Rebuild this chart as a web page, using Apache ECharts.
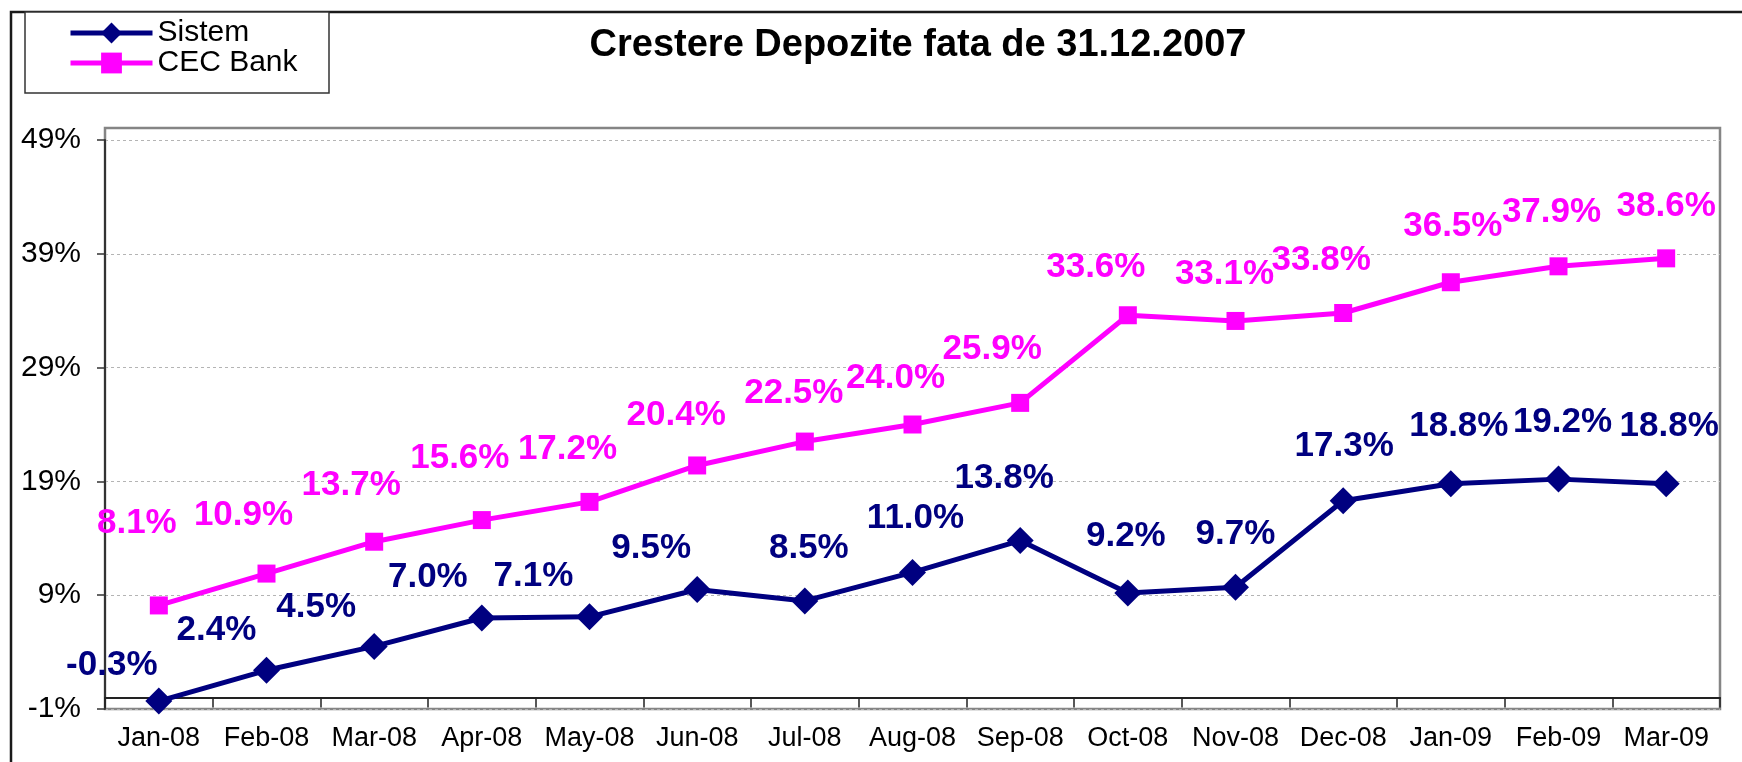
<!DOCTYPE html>
<html>
<head>
<meta charset="utf-8">
<script src="https://cdn.jsdelivr.net/npm/echarts@6/dist/echarts.min.js"></script>
<style>
  html, body { margin: 0; padding: 0; background: #fff; }
  #chart { width: 1742px; height: 762px; }
</style>
</head>
<body>
<div id="chart"></div>
<script>
// data
var categories = ['Jan-08', 'Feb-08', 'Mar-08', 'Apr-08', 'May-08', 'Jun-08', 'Jul-08', 'Aug-08',
    'Sep-08', 'Oct-08', 'Nov-08', 'Dec-08', 'Jan-09', 'Feb-09', 'Mar-09'];
var sistem = [-0.3, 2.4, 4.5, 7.0, 7.1, 9.5, 8.5, 11.0, 13.8, 9.2, 9.7, 17.3, 18.8, 19.2, 18.8];
var cecBank = [8.1, 10.9, 13.7, 15.6, 17.2, 20.4, 22.5, 24.0, 25.9, 33.6, 33.1, 33.8, 36.5, 37.9, 38.6];
var yMin = -1, yMax = 49, yStep = 10;

// where each value label sits relative to its point (labels were dragged by hand)
var sistemLabelOffsets = [[-47, -36], [-50, -40], [-58, -39], [-54, -41], [-56, -40], [-46, -41],
    [4, -53], [3, -54], [-16, -62], [-2, -57], [0, -53], [1, -54], [8, -57], [4, -57], [3, -57]];
var cecLabelOffsets = [[-22, -82], [-23, -58], [-23, -56], [-22, -62], [-22, -53], [-21, -50],
    [-11, -48], [-17, -46], [-28, -54], [-32, -48], [-11, -47], [-22, -53], [2, -56], [-7, -54], [0, -52]];

var FONT = '"Liberation Sans", Arial, sans-serif';

buildPoints = function (values, offsets) {
    var out = [];
    for (var i = 0; i < values.length; i++) {
        out.push({ value: values[i], label: { offset: offsets[i] } });
    }
    return out;
}

var chart = echarts.init(document.getElementById('chart'));
var option = {
    animation: false,
    backgroundColor: '#fff',
    graphic: [
        // outer chart frame
        { type: 'rect', z: -10, silent: true, shape: { x: 11, y: 12, width: 1800, height: 800 },
          style: { fill: '#fff', stroke: '#1a1a1a', lineWidth: 2.5 } },
        // plot box
        { type: 'rect', z: -5, silent: true, shape: { x: 105, y: 128, width: 1615, height: 581 },
          style: { fill: 'none', stroke: '#858585', lineWidth: 2.5 } },
        // legend box
        { type: 'rect', z: -5, silent: true, shape: { x: 25, y: 12, width: 304, height: 81 },
          style: { fill: '#fff', stroke: '#333', lineWidth: 1.5 } },
        { type: 'text', silent: true, x: 918, y: 46,
          style: { text: 'Crestere Depozite fata de 31.12.2007', fill: '#000', align: 'center',
                   verticalAlign: 'middle', font: 'bold 38px ' + FONT } }
    ],
    legend: {
        orient: 'vertical',
        left: 68,
        top: 18,
        padding: 0,
        itemGap: 0,
        itemWidth: 82,
        itemHeight: 26,
        lineStyle: { width: 5 },
        textStyle: { fontFamily: FONT, fontSize: 30, lineHeight: 30, color: '#000' },
        data: ['Sistem', 'CEC Bank']
    },
    grid: { left: 105, right: 22, top: 140, bottom: 53, containLabel: false },
    xAxis: {
        type: 'category',
        data: categories,
        axisLine: { onZero: true, lineStyle: { color: '#222', width: 2 } },
        axisTick: { show: true, inside: false, length: 10, interval: 0, lineStyle: { color: '#222', width: 1.5 } },
        axisLabel: { interval: 0, margin: 16, fontFamily: FONT, fontSize: 27, color: '#000' },
        splitLine: { show: false }
    },
    yAxis: {
        type: 'value',
        min: yMin,
        max: yMax,
        interval: yStep,
        axisLine: { show: true, lineStyle: { color: '#333', width: 2 } },
        axisTick: { show: true, inside: false, length: 8, lineStyle: { color: '#333', width: 1.5 } },
        axisLabel: { formatter: '{value}%', margin: 24, fontFamily: FONT, fontSize: 30, color: '#000' },
        splitLine: { show: true, lineStyle: { color: '#b4b4b4', width: 1, type: [3, 3] } }
    },
    series: [
        {
            name: 'Sistem',
            type: 'line',
            data: buildPoints(sistem, sistemLabelOffsets),
            symbol: 'diamond',
            symbolSize: [27, 27],
            showAllSymbol: true,
            z: 3,
            lineStyle: { color: '#000080', width: 5 },
            itemStyle: { color: '#000080' },
            label: {
                show: true, position: 'inside', color: '#000080',
                fontFamily: FONT, fontWeight: 'bold', fontSize: 35,
                formatter: function (p) { return p.value.toFixed(1) + '%'; }
            }
        },
        {
            name: 'CEC Bank',
            type: 'line',
            data: buildPoints(cecBank, cecLabelOffsets),
            symbol: 'rect',
            symbolSize: 18,
            showAllSymbol: true,
            z: 3,
            lineStyle: { color: '#ff00ff', width: 5 },
            itemStyle: { color: '#ff00ff' },
            label: {
                show: true, position: 'inside', color: '#ff00ff',
                fontFamily: FONT, fontWeight: 'bold', fontSize: 35,
                formatter: function (p) { return p.value.toFixed(1) + '%'; }
            }
        }
    ]
};
chart.setOption(option);
</script>
</body>
</html>
